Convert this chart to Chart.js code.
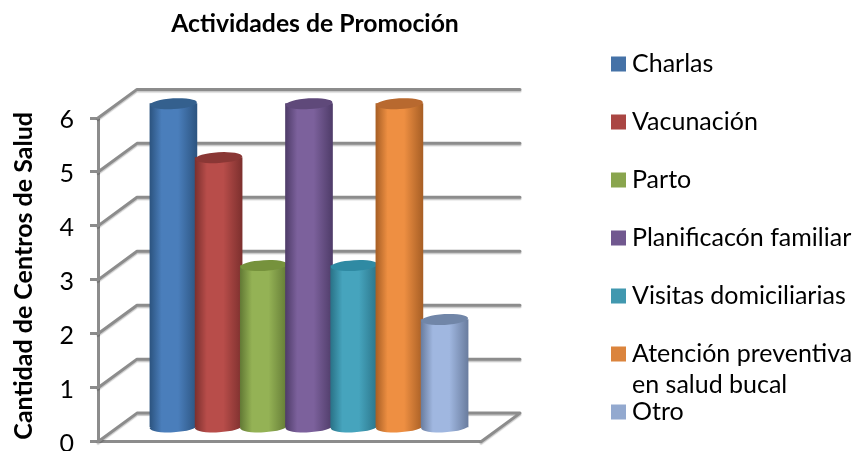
<!DOCTYPE html>
<html><head><meta charset="utf-8">
<style>html,body{margin:0;padding:0;background:#fff}#w{width:854px;height:451px}</style>
<script src="https://cdn.jsdelivr.net/npm/chart.js@4"></script></head>
<body><div id="w"><canvas id="c" width="854" height="451"></canvas></div>
<script>
const chartTitle = "Actividades de Promoción";
const yAxisTitle = "Cantidad de Centros de Salud";
const seriesNames = ["Charlas","Vacunación","Parto","Planificacón familiar","Visitas domiciliarias","Atención preventiva","Otro"];
const legendSecondLine = "en salud bucal";
const seriesValues = [6,5,3,6,3,6,2];
const yTicks = [0,1,2,3,4,5,6];
const legendColors = ["#4572a7","#aa4643","#89a54e","#71588f","#4198af","#db843d","#93a9cf"];
const edgeColors = ["#2c5480","#7d302e","#637a35","#4f3c69","#2a7388","#a85f25","#6a7d9f"];
const midColors  = ["#4a7ebb","#b84d4a","#94b255","#7c619c","#46a4bd","#ee8f42","#a0b7e0"];
const capColors  = ["#34608e","#8a3735","#76923c","#5f497a","#2f8aa3","#b8692f","#7186a8"];

const FONT = "Lato, Carlito, sans-serif";
const GRID = "#8c8c8c";
const DEPTH_X = 39, DEPTH_Y = 28.6, RY = 5.4, X_PAD = 0.737;

function barGradient(c){
  const i = c.datasetIndex, x = c.chart.scales.x, ctx = c.chart.ctx;
  const mid = x.getPixelForValue(i), w = 47;
  const g = ctx.createLinearGradient(mid - w/2, 0, mid + w/2, 0);
  g.addColorStop(0, edgeColors[i]);
  g.addColorStop(0.25, midColors[i]);
  g.addColorStop(0.6, midColors[i]);
  g.addColorStop(1, edgeColors[i]);
  return g;
}
function ell(ctx, x, y, rx, ry, fill){
  ctx.beginPath();
  ctx.ellipse(x, y, rx, ry, -0.06, 0, Math.PI*2);
  ctx.fillStyle = fill;
  ctx.fill();
}
const scene = {
  id: "scene",
  afterLayout(chart){
    const t = chart.titleBlock; t.left = 171; t.right = 459;
    const l = chart.legend; const p = l.options.labels.padding;
    l.left = 617.5 - p; l.right = 854; l.top = 51.5 - p; l.bottom = 560;
    const ys = chart.scales.y;
    if (!ys._shifted) {
      const orig = ys.drawTitle;
      ys.drawTitle = function(){ chart.ctx.save(); chart.ctx.translate(0,-4); orig.call(this); chart.ctx.restore(); };
      ys._shifted = true;
    }
  },
  beforeDatasetsDraw(chart){
    const {ctx, scales:{y}, chartArea:a} = chart;
    ctx.save();
    ctx.strokeStyle = GRID; ctx.lineWidth = 3; ctx.lineJoin = "round"; ctx.lineCap = "round";
    ctx.shadowColor = "rgba(0,0,0,0.22)"; ctx.shadowOffsetY = 1.5; ctx.shadowBlur = 1;
    yTicks.forEach(v => {
      const py = y.getPixelForValue(v);
      ctx.beginPath();
      ctx.moveTo(a.left, py);
      ctx.lineTo(a.left + DEPTH_X, py - DEPTH_Y);
      ctx.lineTo(a.right + DEPTH_X, py - DEPTH_Y);
      if (v === 0) ctx.lineTo(a.right, py);
      ctx.stroke();
    });
    ctx.restore();
  },
  beforeDatasetDraw(chart, args){
    const ctx = chart.ctx, el = args.meta.data[0];
    ctx.save();
    ctx.translate(DEPTH_X/2, -DEPTH_Y/2);
    ell(ctx, el.x, el.base, el.width/2, RY, el.options.backgroundColor);
  },
  afterDatasetDraw(chart, args){
    const ctx = chart.ctx, el = args.meta.data[0];
    ell(ctx, el.x, el.y, el.width/2, RY, capColors[args.index]);
    ctx.restore();
  },
  afterDraw(chart){
    const {ctx} = chart;
    ctx.save();
    ctx.fillStyle = "#000";
    ctx.font = "25px " + FONT;
    ctx.textBaseline = "middle";
    ctx.fillText(legendSecondLine, 632, 385);
    ctx.restore();
  }
};

new Chart(document.getElementById("c"), {
  type: "bar",
  data: {
    datasets: seriesNames.map((n,i)=>({
      label: n, data: [{x:i, y:seriesValues[i]}], order: seriesNames.length - i, clip: false,
      backgroundColor: barGradient, borderWidth: 0, grouped: false, barThickness: 47
    }))
  },
  plugins: [scene],
  options: {
    responsive: false, animation: false, events: [],
    layout: {padding: 0},
    plugins: {
      tooltip: {enabled:false},
      title: {display:true, text: chartTitle, color:"#000", align:"center",
        font:{family:FONT, size:24.75, weight:"bold", lineHeight:1.2},
        padding:{top:9, bottom:79.3}},
      legend: {display:true, position:"right", align:"start",
        labels:{boxWidth:2, boxHeight:2, padding:33, color:"#000",
          font:{family:FONT, size:25, lineHeight:1.2},
          generateLabels: () => seriesNames.map((n,i)=>({
            text:n, fillStyle:legendColors[i], strokeStyle:legendColors[i], lineWidth:13,
            lineJoin:"miter", hidden:false, datasetIndex:i, fontColor:"#000"
          }))}}
    },
    scales: {
      x: {type:"linear", offset:false, min:-0.5-X_PAD, max:seriesNames.length-0.5+X_PAD,
          grid:{display:false, drawTicks:false}, border:{display:true,color:GRID,width:3},
          ticks:{display:false}, afterFit:s=>{s.height=9.3;s.paddingLeft=0;s.paddingRight=0;}},
      y: {min:0, max:6, position:"left",
          afterBuildTicks:s=>{s.ticks = yTicks.map(v=>({value:v}));},
          grid:{drawOnChartArea:false, drawTicks:true, tickLength:8, tickWidth:3, tickColor:GRID},
          border:{display:true,color:GRID,width:3},
          ticks:{color:"#000", padding:16, labelOffset:2, font:{family:FONT,size:25}},
          title:{display:true,text:yAxisTitle,color:"#000",font:{family:FONT,size:25,weight:"bold",lineHeight:1.2},padding:{top:9,bottom:0}},
          afterFit:s=>{s.width=98;s.paddingTop=0;s.paddingBottom=0;}},
      spacer: {position:"right", display:true, min:0, max:1,
          grid:{display:false, drawTicks:false}, border:{display:false}, ticks:{display:false},
          afterFit:s=>{s.width=854-481-s.chart.legend.width;s.paddingTop=0;s.paddingBottom=0;}}
    }
  }
});
</script></body></html>
